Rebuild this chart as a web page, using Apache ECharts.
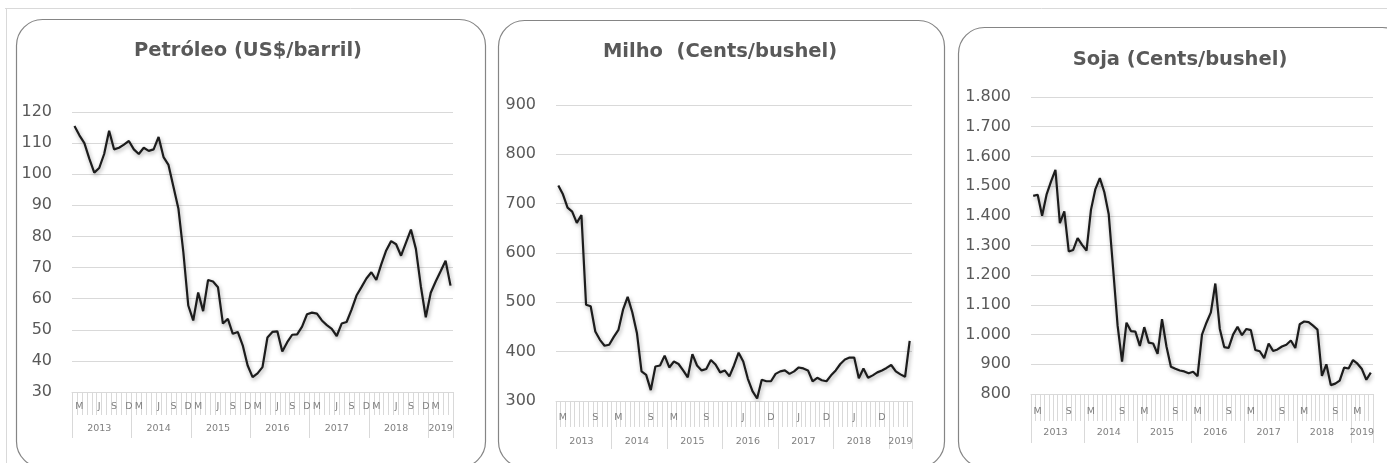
<!DOCTYPE html>
<html>
<head>
<meta charset="utf-8">
<script src="https://cdn.jsdelivr.net/npm/echarts@6/dist/echarts.min.js"></script>
<style>
  html, body { margin: 0; padding: 0; background: #fff; }
  #chart { width: 1387px; height: 463px; }
</style>
</head>
<body>
<div id="chart"></div>
<script>
// monthly series, Jan 2013 .. May 2019
const years = ['2013', '2014', '2015', '2016', '2017', '2018', '2019'];
const monthsPerYear = [12, 12, 12, 12, 12, 12, 5];

const petroleo = [
  115.5, 112.5, 110, 105, 100.5, 102, 106.5, 114, 108, 108.5, 109.5, 110.7,
  108, 106.5, 108.5, 107.5, 108, 112, 105.5, 103, 96, 89, 75, 57.8,
  53, 62, 56, 66, 65.5, 63.7, 52, 53.5, 48.7, 49.3, 45, 38.5,
  34.8, 36, 38, 47.5, 49.3, 49.5, 43, 46, 48.4, 48.5, 51, 55,
  55.5, 55.2, 53, 51.5, 50.3, 48, 52, 52.5, 56.5, 61, 63.7, 66.5,
  68.5, 66, 71, 75.5, 78.5, 77.5, 73.8, 78, 82.2, 76, 64, 54,
  61.9, 65.5, 68.8, 72.2, 64.2
];
const milho = [
  737, 719, 692, 684, 661, 677, 495, 492, 441, 424, 412, 414,
  430, 444, 485, 511, 480, 438, 360, 353, 322, 370, 372, 392,
  368, 380, 375, 362, 348, 395, 372, 362, 365, 383, 374, 358,
  362, 350, 372, 398, 380, 345, 320, 305, 343, 340, 340, 355,
  360, 362, 355, 360, 368, 366, 362, 340, 347, 342, 340, 352,
  362, 375, 384, 388, 388, 346, 366, 347, 352, 358, 362, 367,
  373, 360, 354, 349, 422
];
const soja = [
  1467, 1471, 1400, 1471, 1515, 1555, 1375, 1415, 1280, 1285, 1325, 1302,
  1283, 1420, 1490, 1527, 1480, 1405, 1220, 1030, 909, 1040, 1012, 1010,
  962, 1025, 973, 970, 935, 1052, 960, 892, 885, 879, 876, 870,
  875, 860, 1000, 1040, 1075, 1172, 1020, 958, 955, 1000, 1026, 998,
  1019, 1015, 948, 944, 921, 970, 945, 950, 960, 966, 980, 955,
  1035, 1044, 1042, 1030, 1017, 861, 900, 830, 835, 845, 889, 886,
  914, 902, 884, 848, 872
];

// month letters shown in the first axis row: [month index in year, letter]
const petroleoMonthMarks = [[1, 'M'], [5, 'J'], [8, 'S'], [11, 'D']];
const milhoMonthMarksA = [[1, 'M'], [8, 'S']];   // 2013-2015
const milhoMonthMarksB = [[4, 'J'], [10, 'D']];  // 2016-2018
const sojaMonthMarks = [[1, 'M'], [8, 'S']];

const titles = ['Petróleo (US$/barril)', 'Milho  (Cents/bushel)', 'Soja (Cents/bushel)'];

// category list and lookups
const categories = [];
const yearStart = {};
const yearLabelAt = {};
years.forEach((y, k) => {
  const start = categories.length;
  yearStart[start] = true;
  yearLabelAt[start + Math.floor((monthsPerYear[k] - 1) / 2)] = y;
  for (let m = 0; m < monthsPerYear[k]; m++) categories.push(y + '-' + (m + 1));
});

function monthMap(marksForYear) {
  const map = {};
  let start = 0;
  years.forEach((y, k) => {
    marksForYear(k).forEach(([m, t]) => {
      if (m < monthsPerYear[k]) map[start + m] = t;
    });
    start += monthsPerYear[k];
  });
  return map;
}
const monthMaps = [
  monthMap(() => petroleoMonthMarks),
  monthMap(k => (k < 3 ? milhoMonthMarksA : k < 6 ? milhoMonthMarksB : [])),
  monthMap(() => sojaMonthMarks)
];

const grids = [
  { left: 72, top: 112, width: 381, height: 280 },
  { left: 556, top: 105, width: 356, height: 296 },
  { left: 1031, top: 97, width: 342, height: 297 }
];
const axisGeo = [
  { monthTick: 23, yearTick: 46, monthMargin: 10, yearMargin: 32 },
  { monthTick: 26, yearTick: 48, monthMargin: 12, yearMargin: 36 },
  { monthTick: 27, yearTick: 49, monthMargin: 13, yearMargin: 34 }
];
const yRanges = [
  { min: 30, max: 120, interval: 10 },
  { min: 300, max: 900, interval: 100 },
  { min: 800, max: 1800, interval: 100 }
];
const seriesData = [petroleo, milho, soja];

const gray = '#595959';
const gridGray = '#d9d9d9';
const font = 'DejaVu Sans';

const xAxis = [];
const yAxis = [];
const series = [];
grids.forEach((g, i) => {
  const map = monthMaps[i];
  xAxis.push({
    type: 'category', gridIndex: i, position: 'bottom', data: categories, boundaryGap: true,
    axisLine: { show: true, lineStyle: { color: gridGray, width: 1 } },
    axisTick: { show: true, interval: 0, length: axisGeo[i].monthTick, lineStyle: { color: gridGray } },
    axisLabel: {
      interval: idx => map[idx] !== undefined,
      formatter: (v, idx) => map[idx] || '',
      margin: axisGeo[i].monthMargin, color: '#7f7f7f', fontSize: 9.5, fontFamily: font
    }
  });
  xAxis.push({
    type: 'category', gridIndex: i, position: 'bottom', data: categories, boundaryGap: true,
    axisLine: { show: false },
    axisTick: { show: true, interval: idx => !!yearStart[idx], length: axisGeo[i].yearTick, lineStyle: { color: gridGray } },
    axisLabel: {
      interval: idx => yearLabelAt[idx] !== undefined,
      formatter: (v, idx) => yearLabelAt[idx] || '',
      margin: axisGeo[i].yearMargin, color: '#7f7f7f', fontSize: 9.5, fontFamily: font
    }
  });
  yAxis.push({
    type: 'value', gridIndex: i,
    min: yRanges[i].min, max: yRanges[i].max, interval: yRanges[i].interval,
    axisLine: { show: false }, axisTick: { show: false },
    splitLine: { lineStyle: { color: gridGray, width: 1 } },
    axisLabel: {
      color: gray, fontSize: 16, fontFamily: font, margin: 20,
      formatter: v => (v >= 1000 ? String(v).replace(/(\d)(\d{3})$/, '$1.$2') : String(v))
    }
  });
  series.push({
    type: 'line', xAxisIndex: i * 2, yAxisIndex: i, data: seriesData[i],
    symbol: 'none', smooth: false,
    lineStyle: { color: '#1c1c1c', width: 2.2, shadowBlur: 4, shadowColor: 'rgba(0,0,0,0.35)', shadowOffsetX: 1, shadowOffsetY: 2 }
  });
});

const panels = [
  { x: 16, y: 19, w: 469, h: 448, tx: 248, ty: 51 },
  { x: 498, y: 20, w: 446, h: 447, tx: 720, ty: 52 },
  { x: 958, y: 27, w: 450, h: 440, tx: 1180, ty: 60 }
];
const graphic = [
  { type: 'line', shape: { x1: 5, y1: 8.5, x2: 1387, y2: 8.5 }, style: { stroke: gridGray, lineWidth: 1 } },
  { type: 'line', shape: { x1: 6.5, y1: 8, x2: 6.5, y2: 463 }, style: { stroke: gridGray, lineWidth: 1 } }
];
panels.forEach((p, i) => {
  graphic.push({
    type: 'rect', z: -1,
    shape: { x: p.x + 0.5, y: p.y + 0.5, width: p.w, height: p.h, r: 26 },
    style: { fill: 'none', stroke: '#858585', lineWidth: 1.2 }
  });
  graphic.push({
    type: 'text', x: p.tx, y: p.ty,
    style: { text: titles[i], fill: gray, font: 'bold 19.5px "' + font + '"', textAlign: 'center', textVerticalAlign: 'middle' }
  });
});

const chart = echarts.init(document.getElementById('chart'));
chart.setOption({
  animation: false,
  backgroundColor: '#fff',
  grid: grids.map(g => Object.assign({ outerBoundsMode: 'none', containLabel: false }, g)),
  xAxis: xAxis,
  yAxis: yAxis,
  series: series,
  graphic: graphic
});
</script>
</body>
</html>
